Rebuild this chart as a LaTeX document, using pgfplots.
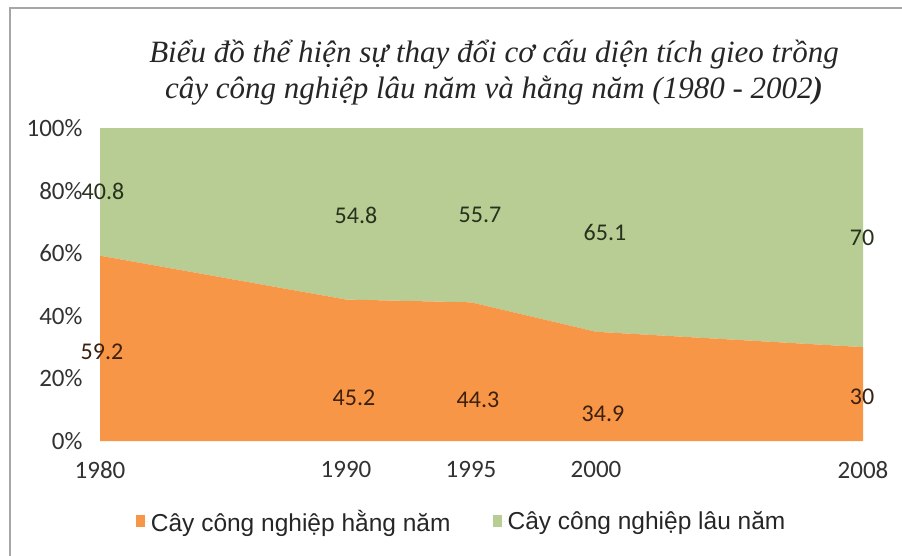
\documentclass[border=0pt]{standalone}
\usepackage{fontspec}
\usepackage{pgfplots}
\pgfplotsset{compat=1.18}
\setmainfont{Liberation Serif}
\newfontfamily\carlito{Carlito}
\newfontfamily\arial{Liberation Sans}
\definecolor{orangeA}{RGB}{247,150,70}
\definecolor{greenA}{RGB}{183,205,148}
\definecolor{lblO}{RGB}{60,32,14}
\definecolor{lblG}{RGB}{38,50,28}
\definecolor{tickc}{RGB}{50,50,50}
\tikzset{dl/.style={font=\carlito\fontsize{24}{24}\selectfont}}
\begin{document}
\begin{tikzpicture}
\path[use as bounding box] (0pt,0pt) rectangle (902pt,555pt);
\draw[gray!70, line width=2pt] (10pt,-10pt) -- (10pt,547pt) -- (920pt,547pt);
\node[anchor=base, font=\itshape\fontsize{31}{31}\selectfont, text=black!85] at (494pt,492pt)
  {Biểu đồ thể hiện sự thay đổi cơ cấu diện tích gieo trồng};
\node[anchor=base, font=\itshape\fontsize{31}{31}\selectfont, text=black!85] at (494pt,456pt)
  {cây công nghiệp lâu năm và hằng năm (1980 - 2002\textbf{)}};
\begin{axis}[
  at={(100pt,114pt)}, anchor=south west,
  width=763pt, height=313pt, scale only axis,
  xmin=0, xmax=763, ymin=0, ymax=100,
  clip=false,
  axis line style={draw=none},
  major tick length=0pt,
  xtick={0,246,371,496,763},
  xticklabels={1980,1990,1995,2000,2008},
  ytick={0,20,40,60,80,100},
  yticklabels={0\%,20\%,40\%,60\%,80\%,100\%},
  xticklabel style={font=\carlito\fontsize{25}{25}\selectfont, text=tickc, yshift=-17pt},
  yticklabel style={font=\carlito\fontsize{25}{25}\selectfont, text=tickc, xshift=-14pt},
  stack plots=y,
  legend columns=2,
  legend style={at={(0.474,-0.256)}, anchor=center, draw=none, fill=none,
    font=\arial\fontsize{24.5}{24.5}\selectfont, text=black!85,
    /tikz/every even column/.append style={column sep=40pt}},
  legend image code/.code={\fill[#1] (0pt,-6pt) rectangle (9pt,6pt); \path (0pt,0pt) -- (13pt,0pt);},
  after end axis/.code={
    \node[dl,text=lblG] at (axis cs:3,79.9) {40.8};
    \node[dl,text=lblG] at (axis cs:256,72.2) {54.8};
    \node[dl,text=lblG] at (axis cs:380,72.2) {55.7};
    \node[dl,text=lblG] at (axis cs:505,66.5) {65.1};
    \node[dl,text=lblG] at (axis cs:762,64.9) {70};
    \node[dl,text=lblO] at (axis cs:2,28.4) {59.2};
    \node[dl,text=lblO] at (axis cs:254,13.7) {45.2};
    \node[dl,text=lblO] at (axis cs:378,13.1) {44.3};
    \node[dl,text=lblO] at (axis cs:503,8.6) {34.9};
    \node[dl,text=lblO] at (axis cs:762,14.1) {30};
  },
]
\addplot[fill=orangeA, draw=none] coordinates {(0,59.2) (246,45.2) (371,44.3) (496,34.9) (763,30)} \closedcycle;
\addlegendentry{Cây công nghiệp hằng năm}
\addplot[fill=greenA, draw=none] coordinates {(0,40.8) (246,54.8) (371,55.7) (496,65.1) (763,70)} \closedcycle;
\addlegendentry{Cây công nghiệp lâu năm}
\end{axis}
\end{tikzpicture}
\end{document}
